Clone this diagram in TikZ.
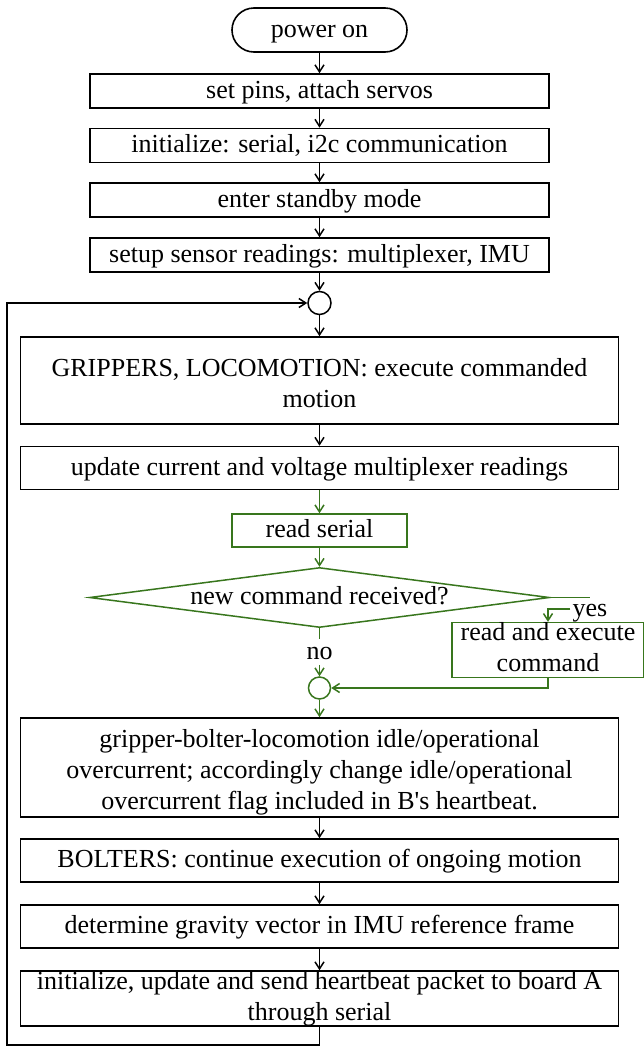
\documentclass[tikz,border=0pt]{standalone}
\usepackage{fontspec}
\setmainfont{Liberation Serif}
\usetikzlibrary{shapes.geometric,arrows.meta}
\definecolor{flowgreen}{RGB}{56,118,29}
\newcommand\lnstrut{\rule[-5.7pt]{0pt}{25.5pt}}
\newcommand\topstrut{\rule{0pt}{27.7pt}}
\newcommand\fitstrut{\rule{0pt}{17.8pt}}
\newcommand\botstrut{\rule[-5.7pt]{0pt}{5.7pt}}
\begin{document}
\begin{tikzpicture}[x=1pt,y=-1pt,font=\fontsize{26}{31}\selectfont,
	txt/.style={execute at begin node=\lnstrut},
	box/.style={draw,line width=1.6pt,inner sep=0,minimum width=459,minimum height=34,align=center},
	wbox/.style={box,minimum width=598,minimum height=43},
	gbox/.style={box,draw=flowgreen,line width=1.5pt},
	jn/.style={draw,circle,line width=1.5pt,minimum size=23,inner sep=0},
	arr/.style={-{Straight Barb[length=7pt,width=9pt]},line width=1.5pt},
	garr/.style={arr,draw=flowgreen},
	gline/.style={line width=1.5pt,draw=flowgreen}]
	\useasboundingbox (0,0) rectangle (643,1047);
	\node[box,txt,rounded corners=22,minimum width=175,minimum height=44] (pwr) at (319.5,30) {power on};
	\node[box,txt] (pins) at (319.5,91) {set pins, attach servos};
	\node[box,txt] (init) at (319.5,145.5) {initialize: serial, i2c communication};
	\node[box,txt] (stby) at (319.5,200) {enter standby mode};
	\node[box,txt] (sens) at (319.5,255) {setup sensor readings: multiplexer, IMU};
	\node[jn] (c1) at (319.5,303) {};
	\node[wbox,minimum height=87] (grip) at (319.5,380.5) {\topstrut GRIPPERS, LOCOMOTION: execute commanded\\motion\botstrut};
	\node[wbox,txt] (upd) at (319.5,468) {update current and voltage multiplexer readings};
	\node[gbox,txt,minimum width=175,minimum height=33] (rser) at (319.5,530.5) {read serial};
	\node[draw=flowgreen,txt,line width=1.5pt,diamond,shape aspect=7.67,inner sep=0,minimum width=460,minimum height=60] (cmd) at (319.5,597.5) {new command received?};
	\node[txt,inner sep=2] (yes) at (590,609) {yes};
	\node[gbox,minimum width=192,minimum height=54] (rexe) at (548,650) {\fitstrut read and execute\\command\botstrut};
	\node[txt,inner sep=0] (no) at (319.5,652) {no};
	\node[jn,draw=flowgreen,minimum size=22] (c2) at (319.5,688) {};
	\node[wbox,minimum height=99] (idle) at (319.5,767.5) {\topstrut gripper-bolter-locomotion idle/operational\\overcurrent; accordingly change idle/operational\\overcurrent flag included in B\textquotesingle s heartbeat.\botstrut};
	\node[wbox,txt] (bolt) at (319.5,860.5) {BOLTERS: continue execution of ongoing motion};
	\node[wbox,txt] (grav) at (319.5,926.5) {determine gravity vector in IMU reference frame};
	\node[wbox,minimum height=55] (hbt) at (319.5,998.5) {\fitstrut initialize, update and send heartbeat packet to board A\\through serial\botstrut};
	\coordinate (back) at (7,1045);
	\draw[arr] (pwr) -- (pins);
	\draw[arr] (pins) -- (init);
	\draw[arr] (init) -- (stby);
	\draw[arr] (stby) -- (sens);
	\draw[arr] (sens) -- (c1);
	\draw[arr] (c1) -- (grip);
	\draw[arr] (grip) -- (upd);
	\draw[garr] (upd) -- (rser);
	\draw[garr] (rser) -- (cmd);
	\draw[gline] (cmd.east) -- (cmd.east -| yes);
	\draw[garr] (yes.west) -| (rexe.north);
	\draw[gline] (cmd.south) -- (no.north);
	\draw[garr] (no.south) -- (c2.north);
	\draw[garr] (rexe.south) |- (c2.east);
	\draw[garr] (c2) -- (idle);
	\draw[arr] (idle) -- (bolt);
	\draw[arr] (bolt) -- (grav);
	\draw[arr] (grav) -- (hbt);
	\draw[arr] (hbt.south) |- (back) |- (c1.west);
\end{tikzpicture}
\end{document}
